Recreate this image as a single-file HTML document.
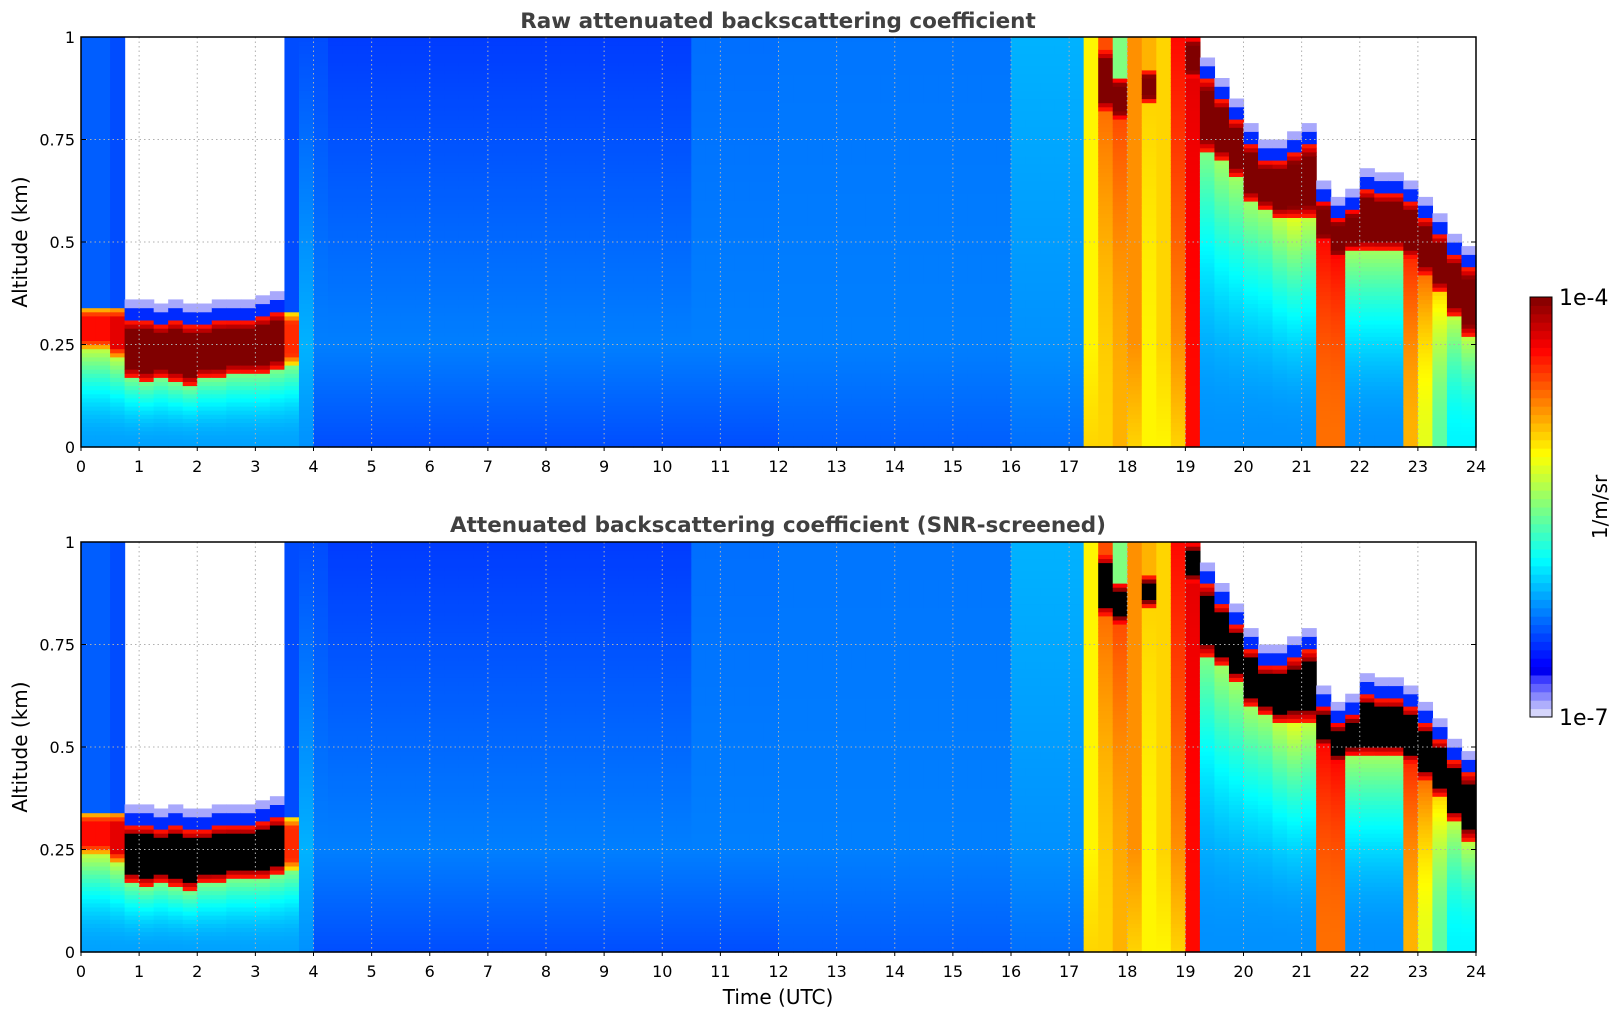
<!DOCTYPE html>
<html><head><meta charset="utf-8"><style>
html,body{margin:0;padding:0;background:#fff}
svg{display:block;font-family:"DejaVu Sans","Liberation Sans",sans-serif}
</style></head><body>
<svg id="fig" width="1621" height="1020" viewBox="0 0 1621 1020">
<text x="778" y="28" text-anchor="middle" font-size="21.5" font-weight="bold" fill="#404040">Raw attenuated backscattering coefficient</text>
<text x="778" y="532" text-anchor="middle" font-size="21.5" font-weight="bold" fill="#404040">Attenuated backscattering coefficient (SNR-screened)</text>
<text x="778" y="1004" text-anchor="middle" font-size="20" fill="#000">Time (UTC)</text>
<text transform="translate(27,242) rotate(-90)" text-anchor="middle" font-size="20">Altitude (km)</text>
<text transform="translate(27,747) rotate(-90)" text-anchor="middle" font-size="20">Altitude (km)</text>
<g id="cbar"></g>
<text x="1559" y="305" font-size="22">1e-4</text>
<text x="1559" y="725" font-size="22">1e-7</text>
<text transform="translate(1607,507) rotate(-90)" text-anchor="middle" font-size="20">1/m/sr</text>
</svg>
<script>
// Per 0.25 h column: ground value, value at cloud base (or 0.25 km if no cloud), cloud base/top (km), cloud peak, value above cloud (log10 1/m/sr)
const gVal=[-6.15,-6.15,-6.15,-6.15,-6.15,-6.15,-6.15,-6.15,-6.15,-6.15,-6.15,-6.15,-6.15,-6.15,-6.15,-6.2,
-6.4,-6.4,-6.4,-6.4,-6.4,-6.4,-6.4,-6.4,-6.4,-6.4,-6.4,-6.4,-6.4,-6.4,-6.4,-6.4,-6.4,-6.4,-6.4,-6.4,-6.4,-6.4,-6.4,-6.4,-6.4,-6.4,
-6.4,-6.4,-6.4,-6.4,-6.4,-6.4,
-6.35,-6.35,-6.35,-6.35,-6.35,-6.35,-6.35,-6.35,-6.35,-6.35,-6.35,-6.35,-6.35,-6.35,-6.35,-6.35,
-6.3,-6.3,-6.3,-6.3,-6.3,-5.0,-5.0,-4.9,-5.0,-5.1,-5.1,-5.0,-4.4,-6.2,-6.2,-6.2,-6.2,-6.2,-6.2,-6.2,-6.2,-4.7,-4.7,-6.2,-6.2,-6.2,-6.2,-4.9,-5.2,-5.6,-5.9,-5.9];
const bVal=[-5.3,-5.3,-5.3,-5.5,-5.5,-5.5,-5.5,-5.5,-5.5,-5.5,-5.5,-5.5,-5.5,-5.5,-5.5,-6.1,
-6.25,-6.25,-6.25,-6.25,-6.25,-6.25,-6.25,-6.25,-6.25,-6.25,-6.25,-6.25,-6.25,-6.25,-6.25,-6.25,-6.25,-6.25,-6.25,-6.25,-6.25,-6.25,-6.25,-6.25,-6.25,-6.25,
-6.25,-6.25,-6.25,-6.25,-6.25,-6.25,
-6.25,-6.25,-6.25,-6.25,-6.25,-6.25,-6.25,-6.25,-6.25,-6.25,-6.25,-6.25,-6.25,-6.25,-6.25,-6.25,
-6.2,-6.2,-6.2,-6.2,-6.2,-5.1,-4.7,-4.6,-4.8,-5.0,-5.0,-4.8,-4.3,-5.5,-5.4,-5.4,-5.4,-5.4,-5.3,-5.2,-5.3,-4.4,-4.4,-5.4,-5.4,-5.4,-5.4,-4.5,-4.7,-5.0,-5.3,-5.3];
const baseKm=[0.24,0.24,0.22,0.17,0.16,0.17,0.16,0.15,0.17,0.17,0.18,0.18,0.18,0.19,0.20,1,
1,1,1,1,1,1,1,1,1,1,1,1,1,1,1,1,1,1,1,1,1,1,1,1,1,1,
1,1,1,1,1,1,1,1,1,1,1,1,1,1,1,1,1,1,1,1,1,1,
1,1,1,1,1,1,0.82,0.80,1,0.84,1,1,0.90,0.72,0.70,0.66,0.60,0.58,0.56,0.56,0.56,0.50,0.46,0.48,0.48,0.48,0.48,0.46,0.42,0.38,0.32,0.27];
const topKm=[0.34,0.34,0.34,0.31,0.31,0.30,0.31,0.30,0.30,0.31,0.31,0.31,0.32,0.33,0.33,1,
1,1,1,1,1,1,1,1,1,1,1,1,1,1,1,1,1,1,1,1,1,1,1,1,1,1,
1,1,1,1,1,1,1,1,1,1,1,1,1,1,1,1,1,1,1,1,1,1,
1,1,1,1,1,1,0.97,0.90,1,0.92,1,1,1,0.90,0.85,0.80,0.74,0.70,0.70,0.72,0.74,0.60,0.56,0.58,0.63,0.62,0.62,0.60,0.56,0.52,0.47,0.44];
const peakVal=[-4.4,-4.4,-4.3,-3.9,-3.9,-3.9,-3.9,-3.9,-3.9,-3.9,-3.9,-3.9,-3.9,-3.9,-4.5,0,
0,0,0,0,0,0,0,0,0,0,0,0,0,0,0,0,0,0,0,0,0,0,0,0,0,0,
0,0,0,0,0,0,0,0,0,0,0,0,0,0,0,0,0,0,0,0,0,0,
0,0,0,0,0,0,-3.9,-3.9,0,-4.0,0,0,-3.9,-3.9,-3.9,-3.9,-3.9,-3.9,-3.9,-3.9,-3.9,-3.9,-3.9,-3.9,-3.9,-3.9,-3.9,-3.9,-3.9,-3.9,-3.9,-3.9];
const aboveVal=[-6.35,-6.35,-6.4,-8,-8,-8,-8,-8,-8,-8,-8,-8,-8,-8,-6.4,-6.4,
-6.4,-6.45,-6.45,-6.45,-6.45,-6.45,-6.45,-6.45,-6.45,-6.45,-6.45,-6.45,-6.45,-6.45,-6.45,-6.45,-6.45,-6.45,-6.45,-6.45,-6.45,-6.45,-6.45,-6.45,-6.45,-6.45,
-6.3,-6.3,-6.3,-6.3,-6.3,-6.3,
-6.28,-6.28,-6.28,-6.28,-6.28,-6.28,-6.28,-6.28,-6.28,-6.28,-6.28,-6.28,-6.28,-6.28,-6.28,-6.28,
-6.1,-6.1,-6.1,-6.1,-6.1,-5.1,-4.6,-5.5,-4.8,-4.9,-5.0,-4.4,-4.0,-8,-8,-8,-8,-8,-8,-8,-8,-8,-8,-8,-8,-8,-8,-8,-8,-8,-8,-8];
const hourTicks=[0,1,2,3,4,5,6,7,8,9,10,11,12,13,14,15,16,17,18,19,20,21,22,23,24];
const altTicks=[0,0.25,0.5,0.75,1];
const altTickLabels=["0","0.25","0.5","0.75","1"];

const NS="http://www.w3.org/2000/svg";
const svg=document.getElementById('fig');
const X0=81,X1=1476;
const panels=[{top:37,bot:447,sat:false,name:'raw-panel'},{top:542,bot:952,sat:true,name:'screened-panel'}];
function xScale(h){return X0+(h/24)*(X1-X0);}
function jet(t){
  if(t<0.1){const f=t/0.1;const a=[232,232,250],b=[40,40,255];
    return `rgb(${Math.round(a[0]+(b[0]-a[0])*f)},${Math.round(a[1]+(b[1]-a[1])*f)},${Math.round(a[2]+(b[2]-a[2])*f)})`;}
  const c=v=>Math.round(255*Math.max(0,Math.min(1,1.5-Math.abs(4*t-v))));
  return `rgb(${c(3)},${c(2)},${c(1)})`;
}
function colorFor(v,sat){
  if(v<=-7.5)return null;
  if(v>=-4.02)return sat?'#000':'rgb(128,0,0)';
  const t=Math.max(0,Math.min(1,(v+7)/3));
  return jet(t);
}
function cellValue(i,z){
  const b=baseKm[i],tp=topKm[i];
  if(b>=1){ // no cloud
    if(z<=0.25)return gVal[i]+(bVal[i]-gVal[i])*(z/0.25);
    return bVal[i]+(aboveVal[i]-bVal[i])*((z-0.25)/0.75);
  }
  if(z<b){const f=z/b;return gVal[i]+(bVal[i]-gVal[i])*f*f;}
  if(z<=tp){const mid=(b+tp)/2,hw=(tp-b)/2;const d=Math.abs(z-mid)/hw;
    return d<0.6?peakVal[i]:peakVal[i]-(d-0.6)*1.6;}
  if(aboveVal[i]<=-7.5){
    if(z<tp+0.03)return -6.5;
    if(z<tp+0.05)return -6.9;
  }
  return aboveVal[i];
}
const NR=100;
panels.forEach(p=>{
  const g=document.createElementNS(NS,'g');
  
  
  svg.appendChild(g);
  const H=p.bot-p.top;
  const yS=z=>p.bot-z*H;
  for(let i=0;i<gVal.length;i++){
    const x=xScale(i*0.25),w=xScale((i+1)*0.25)-x;
    let runStart=0,runCol=colorFor(cellValue(i,0.005),p.sat);
    for(let r=1;r<=NR;r++){
      const col=r<NR?colorFor(cellValue(i,(r+0.5)/NR),p.sat):'__end';
      if(col!==runCol){
        if(runCol){
          const rc=document.createElementNS(NS,'rect');
          
          
          const y1=yS(r/NR),y0=yS(runStart/NR);
          rc.setAttribute('x',x.toFixed(2));rc.setAttribute('y',y1.toFixed(2));
          rc.setAttribute('width',(w+0.6).toFixed(2));rc.setAttribute('height',(y0-y1+0.6).toFixed(2));
          rc.setAttribute('fill',runCol);g.appendChild(rc);
        }
        runStart=r;runCol=col;
      }
    }
  }
  const gg=document.createElementNS(NS,'g');
  
  
  svg.appendChild(gg);
  hourTicks.forEach(h=>{
    const x=xScale(h);
    const l=document.createElementNS(NS,'line');
    
    
    l.setAttribute('x1',x);l.setAttribute('x2',x);l.setAttribute('y1',p.top);l.setAttribute('y2',p.bot);
    l.setAttribute('stroke','#b0b0b0');l.setAttribute('stroke-dasharray','1.5,3');gg.appendChild(l);
    const tk=document.createElementNS(NS,'line');
    
    
    tk.setAttribute('x1',x);tk.setAttribute('x2',x);tk.setAttribute('y1',p.bot);tk.setAttribute('y2',p.bot+4);
    tk.setAttribute('stroke','#000');gg.appendChild(tk);
    const t=document.createElementNS(NS,'text');
    
    
    t.setAttribute('x',x);t.setAttribute('y',p.bot+25);t.setAttribute('text-anchor','middle');t.setAttribute('font-size','16');
    t.textContent=String(h);gg.appendChild(t);
  });
  altTicks.forEach((a,k)=>{
    const y=yS(a);
    const l=document.createElementNS(NS,'line');
    
    
    l.setAttribute('x1',X0);l.setAttribute('x2',X1);l.setAttribute('y1',y);l.setAttribute('y2',y);
    l.setAttribute('stroke','#b0b0b0');l.setAttribute('stroke-dasharray','1.5,3');gg.appendChild(l);
    [[X0,X0+5],[X1-5,X1]].forEach(s=>{
      const tk=document.createElementNS(NS,'line');
      
      
      tk.setAttribute('x1',s[0]);tk.setAttribute('x2',s[1]);tk.setAttribute('y1',y);tk.setAttribute('y2',y);
      tk.setAttribute('stroke','#000');gg.appendChild(tk);
    });
    const t=document.createElementNS(NS,'text');
    
    
    t.setAttribute('x',X0-6);t.setAttribute('y',y+6);t.setAttribute('text-anchor','end');t.setAttribute('font-size','16');
    t.textContent=altTickLabels[k];gg.appendChild(t);
  });
  const fr=document.createElementNS(NS,'rect');
  
  
  fr.setAttribute('x',X0);fr.setAttribute('y',p.top);fr.setAttribute('width',X1-X0);fr.setAttribute('height',H);
  fr.setAttribute('fill','none');fr.setAttribute('stroke','#000');fr.setAttribute('stroke-width','1.5');svg.appendChild(fr);
});
const cb=document.getElementById('cbar');
const CT=297,CB=717,CX=1530,CW=22,NL=50;
for(let k=0;k<NL;k++){
  const v=-7+3*(k+0.5)/NL;
  const y0=CB-(k+1)*(CB-CT)/NL;
  const r=document.createElementNS(NS,'rect');
  
  
  r.setAttribute('x',CX);r.setAttribute('y',y0.toFixed(2));r.setAttribute('width',CW);r.setAttribute('height',((CB-CT)/NL+0.5).toFixed(2));
  r.setAttribute('fill',colorFor(v,false)||'#fff');cb.appendChild(r);
}
const cf=document.createElementNS(NS,'rect');


cf.setAttribute('x',CX);cf.setAttribute('y',CT);cf.setAttribute('width',CW);cf.setAttribute('height',CB-CT);
cf.setAttribute('fill','none');cf.setAttribute('stroke','#000');cb.appendChild(cf);
</script>
</body></html>
